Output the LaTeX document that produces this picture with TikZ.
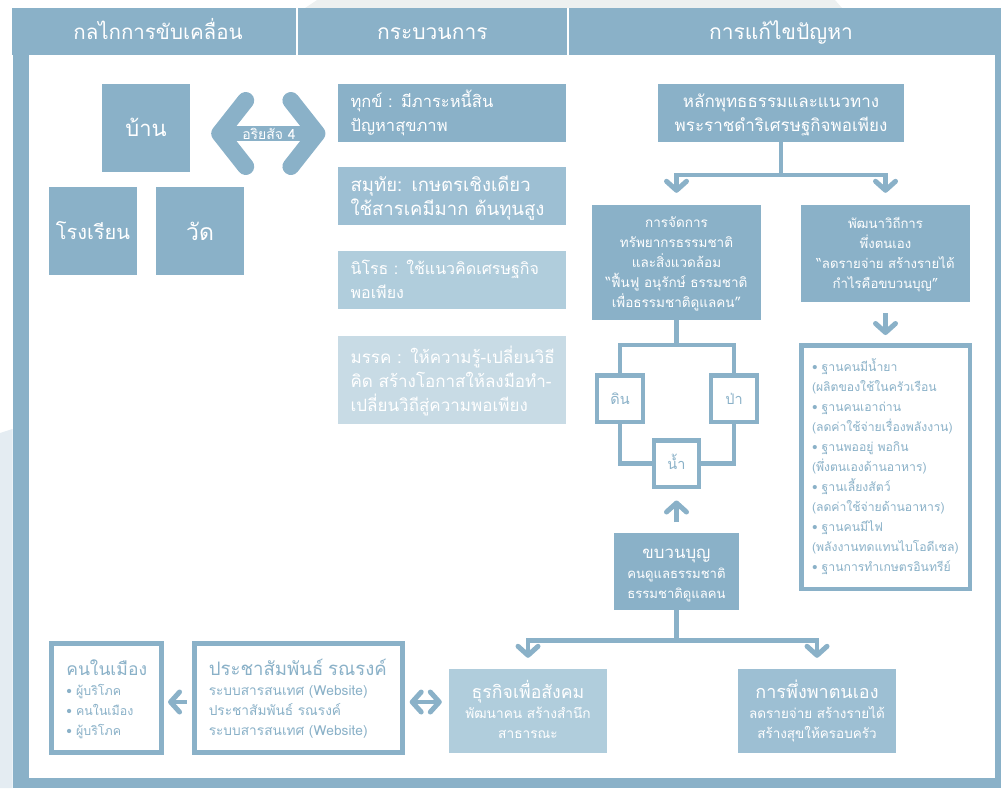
\documentclass[tikz,border=0pt]{standalone}
\usepackage{fontspec}
\setmainfont[Script=Thai]{Loma}
\usetikzlibrary{arrows.meta,calc}
\definecolor{mainblue}{HTML}{8AB1C8}
\definecolor{blueb}{HTML}{9DBFD3}
\definecolor{bluec}{HTML}{B0CDDC}
\definecolor{blued}{HTML}{C8DBE5}
\definecolor{pagegrey}{HTML}{EDF0F0}
\definecolor{pageblue}{HTML}{E4ECF2}
\newcommand\fsz[2]{\fontsize{#1}{#2}\selectfont\lineskiplimit=-100pt\lineskip=0pt\relax}
\newcommand\Ln[1]{\rule[-.2em]{0pt}{1.2em}\smash{#1}}
\newcommand\Hd[2]{{\fontsize{#1}{20}\selectfont\Ln{#2}}}
\tikzset{
  sz/.style 2 args={minimum width=#1pt,minimum height=#2pt},
  solid box/.style={fill=#1,text=white,inner sep=0pt,align=center},
  solid box/.default=mainblue,
  left box/.style={fill=#1,text=white,inner xsep=13pt,inner ysep=0pt,align=left,text width=202pt,minimum height=58pt},
  line box/.style={draw=mainblue,line width=4.5pt,fill=white,text=mainblue,inner sep=0pt},
  pad/.style 2 args={inner xsep=#2,text width=#1-2*#2,align=left},
  conn/.style={draw=mainblue,line width=4.4pt},
  small tip/.style={-{Straight Barb[round,length=9pt,width=20pt,line width=5pt]}},
  wide tip/.style={line width=4.6pt,{Straight Barb[round,length=9pt,width=20pt,line width=5pt]}-{Straight Barb[round,length=9pt,width=20pt,line width=5pt]}},
}
\begin{document}
\begin{tikzpicture}[x=1pt,y=-1pt]
\useasboundingbox (0,0) rectangle (1001,788);
% page background
\fill[pagegrey] (305,8) -- (317,0) -- (835,0) -- (842,8) -- cycle;
\fill[pageblue] (0,433) -- (12.5,429) -- (12.5,788) -- (0,788) -- cycle;
% frame
\fill[mainblue] (12.5,55) rectangle (28.5,788);
\fill[mainblue] (12.5,778) rectangle (1001,788);
\fill[mainblue] (995,55) rectangle (1001,788);
% headers
\node[solid box,sz={283.5}{47},font=\fsz{20.5}{26}] (h1) at (153.75,31.5) {\hspace*{8.5pt}\Ln{กลไกการขับเคลื่อน}};
\node[solid box,sz={268.7}{47},font=\fsz{21}{26}] (h2) at (432.35,31.5) {\Ln{กระบวนการ}};
\node[solid box,sz={432}{47},font=\fsz{21}{26}] (h3) at (785,31.5) {\hspace*{-8pt}\Ln{การแก้ไขปัญหา}};
% left column
\node[solid box,sz={88}{88},font=\fsz{22}{28}] (ban) at (146,128) {\Ln{บ้าน}};
\node[solid box,sz={88}{88},font=\fsz{20}{28}] (school) at (93,231) {\Ln{โรงเรียน}};
\node[solid box,sz={88}{88},font=\fsz{23}{28}] (wat) at (200,231) {\Ln{วัด}};
% middle column
\node[left box=mainblue,anchor=north west,font=\fsz{16.5}{24}] (p1) at (337.4,84) {\Ln{ทุกข์ : มีภาระหนี้สิน}\\\Ln{ปัญหาสุขภาพ}};
\node[left box=blueb,anchor=north west,font=\fsz{18.5}{24}] (p2) at (337.4,167) {\Ln{สมุทัย: เกษตรเชิงเดียว}\\\Ln{ใช้สารเคมีมาก ต้นทุนสูง}};
\node[left box=bluec,anchor=north west,font=\fsz{16}{24}] (p3) at (337.4,251) {\Ln{นิโรธ : ใช้แนวคิดเศรษฐกิจ}\\\Ln{พอเพียง}};
\node[left box=blued,anchor=north west,minimum height=88pt,font=\fsz{17}{24}] (p4) at (337.4,336) {\Ln{มรรค : ให้ความรู้-เปลี่ยนวิธี}\\\Ln{คิด สร้างโอกาสให้ลงมือทำ-}\\\Ln{เปลี่ยนวิถีสู่ความพอเพียง}};
% big double arrow
\coordinate (bigy) at (0,133.5);
\draw[line width=15pt,mainblue,{Straight Barb[round,length=26pt,width=66pt,line width=17pt]}-{Straight Barb[round,length=26pt,width=66pt,line width=17pt]},shorten <=21pt,shorten >=12pt] (ban.east |- bigy) -- (p1.west |- bigy);
\node[text=white,inner sep=0pt,font=\fsz{14}{16}] (ari) at (269,134) {\Ln{อริยสัจ 4}};
% right column
\node[solid box,sz={246}{58},font=\fsz{17}{24}] (principle) at (781,113) {\Ln{หลักพุทธธรรมและแนวทาง}\\\Ln{พระราชดำริเศรษฐกิจพอเพียง}};
\node[solid box,sz={169}{115},font=\fsz{13.5}{20}] (manage) at (676.5,262.5) {\Ln{การจัดการ}\\\Ln{ทรัพยากรธรรมชาติ}\\\Ln{และสิ่งแวดล้อม}\\\Ln{“ฟื้นฟู อนุรักษ์ ธรรมชาติ}\\\Ln{เพื่อธรรมชาติดูแลคน”}};
\node[solid box,sz={169}{97},font=\fsz{13.2}{20}] (develop) at (885.5,253.5) {\Ln{พัฒนาวิถีการ}\\\Ln{พึ่งตนเอง}\\\Ln{“ลดรายจ่าย สร้างรายได้}\\\Ln{กำไรคือขบวนบุญ”}};
\coordinate (junction top) at (781,175);
\coordinate (left drop) at (676.5,175);
\coordinate (right drop) at (885.5,175);
\draw[conn] (principle.south) -- (junction top);
\draw[conn,small tip,shorten >=12pt] (junction top) -- (left drop) -- (manage.north);
\draw[conn,small tip,shorten >=12pt] (junction top) -- (right drop) -- (develop.north);
% list
\node[line box,sz={168.5}{243.5},pad={168.5pt}{10.75pt},font=\fsz{12.2}{20}] (list) at (885.5,467) {\Ln{• ฐานคนมีน้ำยา}\\\Ln{(ผลิตของใช้ในครัวเรือน}\\\Ln{• ฐานคนเอาถ่าน}\\\Ln{(ลดค่าใช้จ่ายเรื่องพลังงาน)}\\\Ln{• ฐานพออยู่ พอกิน}\\\Ln{(พึ่งตนเองด้านอาหาร)}\\\Ln{• ฐานเลี้ยงสัตว์}\\\Ln{(ลดค่าใช้จ่ายด้านอาหาร)}\\\Ln{• ฐานคนมีไฟ}\\\Ln{(พลังงานทดแทนไบโอดีเซล)}\\\Ln{• ฐานการทำเกษตรอินทรีย์}};
\draw[conn,small tip,shorten <=11pt,shorten >=8pt] (develop.south) -- (list.north);
% three resources
\node[line box,sz={46}{46.5},font=\fsz{14.5}{18}] (din) at (620,398.5) {\Ln{ดิน}};
\node[line box,sz={46}{46.5},font=\fsz{14.5}{18}] (pa) at (734,398.5) {\Ln{ป่า}};
\node[line box,sz={45}{46.5},font=\fsz{14.5}{18}] (nam) at (676.5,463.5) {\Ln{น้ำ}};
\coordinate (loop top) at (676.5,345);
\draw[conn] (manage.south) -- (loop top);
\draw[conn] (din.north) -- (din.north |- loop top) -- (pa.north |- loop top) -- (pa.north);
\draw[conn] (din.south) |- (nam.west);
\draw[conn] (pa.south) |- (nam.east);
% merit movement
\node[solid box,sz={125}{77},font=\fsz{13.1}{20}] (merit) at (676.5,571.5) {\Hd{16.8}{ขบวนบุญ}\\\Ln{คนดูแลธรรมชาติ}\\\Ln{ธรรมชาติดูแลคน}};
\draw[conn,small tip,shorten <=10.5pt,shorten >=11.5pt] (merit.north) -- (nam.south);
\coordinate (junction low) at (676.5,640.5);
\draw[conn] (merit.south) -- (junction low);
% bottom row
\node[solid box=bluec,sz={158}{83.7},font=\fsz{13.7}{20}] (social) at (528,710.85) {\Hd{17.7}{ธุรกิจเพื่อสังคม}\\\Ln{พัฒนาคน สร้างสำนึก}\\\Ln{สาธารณะ}};
\node[solid box=blueb,sz={158}{83.7},font=\fsz{13.5}{20}] (self) at (817,710.85) {\Hd{18}{การพึ่งพาตนเอง}\\\Ln{ลดรายจ่าย สร้างรายได้}\\\Ln{สร้างสุขให้ครอบครัว}};
\node[line box,sz={110}{109.2},pad={110pt}{15pt},font=\fsz{12.4}{20}] (city) at (106.3,698) {\Hd{17.5}{คนในเมือง}\\\Ln{• ผู้บริโภค}\\\Ln{• คนในเมือง}\\\Ln{• ผู้บริโภค}};
\node[line box,sz={208.2}{109.2},pad={208.2pt}{14.5pt},font=\fsz{13.7}{20}] (pr) at (298.35,698) {\Hd{18.6}{ประชาสัมพันธ์ รณรงค์}\\\Ln{ระบบสารสนเทศ (Website)}\\\Ln{ประชาสัมพันธ์ รณรงค์}\\\Ln{ระบบสารสนเทศ (Website)}};
\coordinate (social drop) at (528,640.5);
\coordinate (self drop) at (817,640.5);
\draw[conn,small tip,shorten >=11pt] (junction low) -- (social drop) -- (social.north);
\draw[conn,small tip,shorten >=11pt] (junction low) -- (self drop) -- (self.north);
\coordinate (arrow row) at (0,702);
\draw[conn,small tip,shorten <=5.5pt,shorten >=4.5pt] (pr.west |- arrow row) -- (city.east |- arrow row);
\draw[mainblue,wide tip,shorten <=5pt,shorten >=7pt] (pr.east |- arrow row) -- (social.west |- arrow row);
\end{tikzpicture}
\end{document}
